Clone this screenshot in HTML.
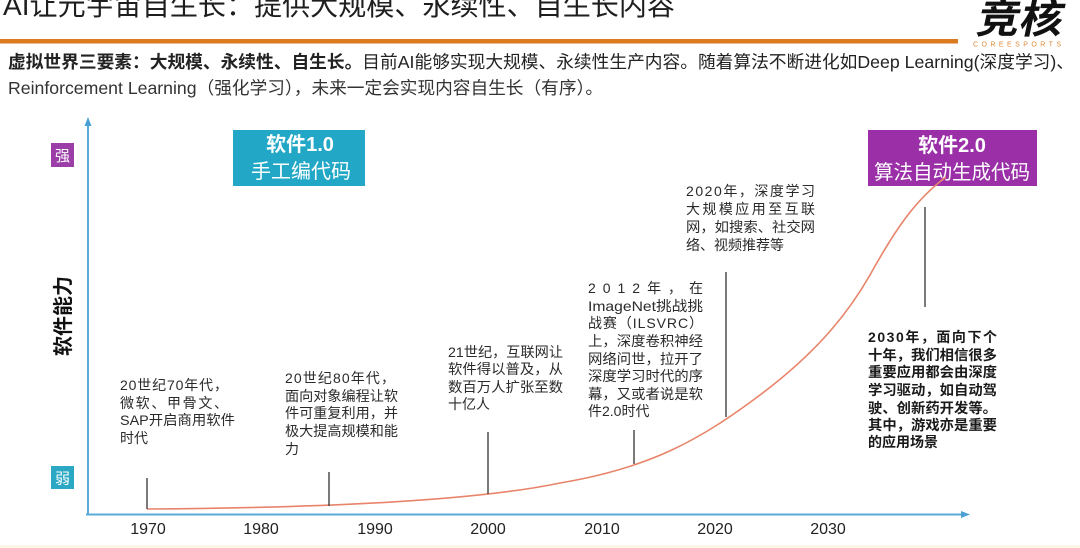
<!DOCTYPE html>
<html><head><meta charset="utf-8">
<style>
html,body{margin:0;padding:0;background:#fff;}
svg{display:block;}
text{font-family:"Liberation Sans","Noto Sans CJK SC",sans-serif;}
</style></head>
<body>
<svg width="1080" height="548" viewBox="0 0 1080 548" xmlns="http://www.w3.org/2000/svg">
<rect width="1080" height="548" fill="#fff"/>
<!-- title -->
<text x="3" y="15" font-size="28" fill="#1e1e1e" textLength="672" lengthAdjust="spacingAndGlyphs">AI让元宇宙自生长：提供大规模、永续性、自生长内容</text>
<rect x="0" y="39" width="958" height="4.5" fill="#dc7a22"/>
<!-- logo -->
<text x="975" y="33" font-size="40" font-weight="bold" fill="#111" textLength="86" lengthAdjust="spacingAndGlyphs" transform="skewX(-12) translate(7,0)">竞核</text>
<text x="973" y="46.5" font-size="7" fill="#e08a3a" textLength="88" lengthAdjust="spacing">COREESPORTS</text>
<!-- subtitle -->
<text x="8" y="68" font-size="17.5" fill="#222" textLength="1066" lengthAdjust="spacingAndGlyphs"><tspan font-weight="bold">虚拟世界三要素：大规模、永续性、自生长。</tspan>目前AI能够实现大规模、永续性生产内容。随着算法不断进化如Deep  Learning(深度学习)、</text>
<text x="8" y="94" font-size="17.5" fill="#333" textLength="595" lengthAdjust="spacingAndGlyphs">Reinforcement Learning（强化学习），未来一定会实现内容自生长（有序）。</text>

<!-- axes -->
<line x1="88" y1="122" x2="88" y2="515" stroke="#5aa9d6" stroke-width="2"/>
<polygon points="88,117 84.5,126 91.5,126" fill="#4a9fd4"/>
<line x1="86" y1="514.5" x2="963" y2="514.5" stroke="#5aa9d6" stroke-width="2"/>
<polygon points="970,514.5 961,511 961,518" fill="#4a9fd4"/>

<!-- strong/weak labels -->
<rect x="51" y="143" width="23" height="24" fill="#9b3ea8"/>
<text x="62.5" y="161" font-size="15" fill="#fff" text-anchor="middle">强</text>
<rect x="51" y="466" width="23" height="23" fill="#2aa8c4"/>
<text x="62.5" y="483.5" font-size="15" fill="#fff" text-anchor="middle">弱</text>
<text x="0" y="0" font-size="20" font-weight="bold" fill="#111" text-anchor="middle" transform="translate(70,316) rotate(-90)">软件能力</text>

<!-- version boxes -->
<rect x="233" y="130" width="132" height="56" fill="#22a8c6"/>
<text x="300" y="151" font-size="20" fill="#fff" text-anchor="middle" font-weight="bold">软件1.0</text>
<text x="301" y="178" font-size="20" fill="#fff" text-anchor="middle">手工编代码</text>
<rect x="868" y="130" width="169" height="56" fill="#9a2fa8"/>
<text x="952" y="152" font-size="20" fill="#fff" text-anchor="middle" font-weight="bold">软件2.0</text>
<text x="952" y="179" font-size="20" fill="#fff" text-anchor="middle" textLength="156" lengthAdjust="spacingAndGlyphs">算法自动生成代码</text>

<!-- curve -->
<path fill="none" stroke="#e8846a" stroke-width="1.6" d="M147,509 C300,508 470,502 560,483 C650,468 700,440 760,395 C820,350 850,310 870,275 C895,230 915,200 946,177"/>

<!-- callout lines -->
<g stroke="#333" stroke-width="1.3">
<line x1="147" y1="478" x2="147" y2="509"/>
<line x1="329" y1="472" x2="329" y2="506"/>
<line x1="488" y1="432" x2="488" y2="494"/>
<line x1="634" y1="430" x2="634" y2="464"/>
<line x1="726" y1="272" x2="726" y2="417"/>
<line x1="925" y1="207" x2="925" y2="307"/>
</g>

<!-- tick labels -->
<g font-size="16" fill="#222" text-anchor="middle">
<text x="148" y="534">1970</text>
<text x="261" y="534">1980</text>
<text x="375" y="534">1990</text>
<text x="488" y="534">2000</text>
<text x="602" y="534">2010</text>
<text x="715" y="534">2020</text>
<text x="828" y="534">2030</text>
</g>

<!-- text blocks -->
<g font-size="14" fill="#2a2a2a">
<text x="120" y="390" textLength="108" lengthAdjust="spacing">20世纪70年代，</text>
<text x="120" y="408" textLength="108" lengthAdjust="spacing">微软、甲骨文、</text>
<text x="120" y="425" textLength="115" lengthAdjust="spacingAndGlyphs">SAP开启商用软件</text>
<text x="120" y="443">时代</text>

<text x="285" y="383" textLength="110" lengthAdjust="spacing">20世纪80年代，</text>
<text x="285" y="401" textLength="113" lengthAdjust="spacingAndGlyphs">面向对象编程让软</text>
<text x="285" y="418" textLength="113" lengthAdjust="spacingAndGlyphs">件可重复利用，并</text>
<text x="285" y="436" textLength="113" lengthAdjust="spacingAndGlyphs">极大提高规模和能</text>
<text x="285" y="454">力</text>

<text x="448" y="357" textLength="115" lengthAdjust="spacingAndGlyphs">21世纪，互联网让</text>
<text x="448" y="374" textLength="115" lengthAdjust="spacingAndGlyphs">软件得以普及，从</text>
<text x="448" y="392" textLength="115" lengthAdjust="spacingAndGlyphs">数百万人扩张至数</text>
<text x="448" y="409">十亿人</text>

<text x="588" y="293" textLength="115" lengthAdjust="spacing">2012年，在</text>
<text x="588" y="311" textLength="115" lengthAdjust="spacingAndGlyphs">ImageNet挑战挑</text>
<text x="588" y="328" textLength="115" lengthAdjust="spacing">战赛（ILSVRC）</text>
<text x="588" y="346" textLength="115" lengthAdjust="spacingAndGlyphs">上，深度卷积神经</text>
<text x="588" y="364" textLength="115" lengthAdjust="spacingAndGlyphs">网络问世，拉开了</text>
<text x="588" y="381" textLength="115" lengthAdjust="spacingAndGlyphs">深度学习时代的序</text>
<text x="588" y="399" textLength="115" lengthAdjust="spacingAndGlyphs">幕，又或者说是软</text>
<text x="588" y="416">件2.0时代</text>

<text x="686" y="196" textLength="129" lengthAdjust="spacing">2020年，深度学习</text>
<text x="686" y="214" textLength="129" lengthAdjust="spacing">大规模应用至互联</text>
<text x="686" y="232" textLength="129" lengthAdjust="spacingAndGlyphs">网，如搜索、社交网</text>
<text x="686" y="250">络、视频推荐等</text>
</g>
<g font-size="14" fill="#1a1a1a" font-weight="bold">
<text x="868" y="342" textLength="129" lengthAdjust="spacing">2030年，面向下个</text>
<text x="868" y="360" textLength="129" lengthAdjust="spacingAndGlyphs">十年，我们相信很多</text>
<text x="868" y="377" textLength="129" lengthAdjust="spacingAndGlyphs">重要应用都会由深度</text>
<text x="868" y="395" textLength="129" lengthAdjust="spacingAndGlyphs">学习驱动，如自动驾</text>
<text x="868" y="413" textLength="129" lengthAdjust="spacingAndGlyphs">驶、创新药开发等。</text>
<text x="868" y="430" textLength="129" lengthAdjust="spacingAndGlyphs">其中，游戏亦是重要</text>
<text x="868" y="447">的应用场景</text>
</g>
<rect x="0" y="545" width="1080" height="3" fill="#fbf7e6"/>
</svg>
</body></html>
